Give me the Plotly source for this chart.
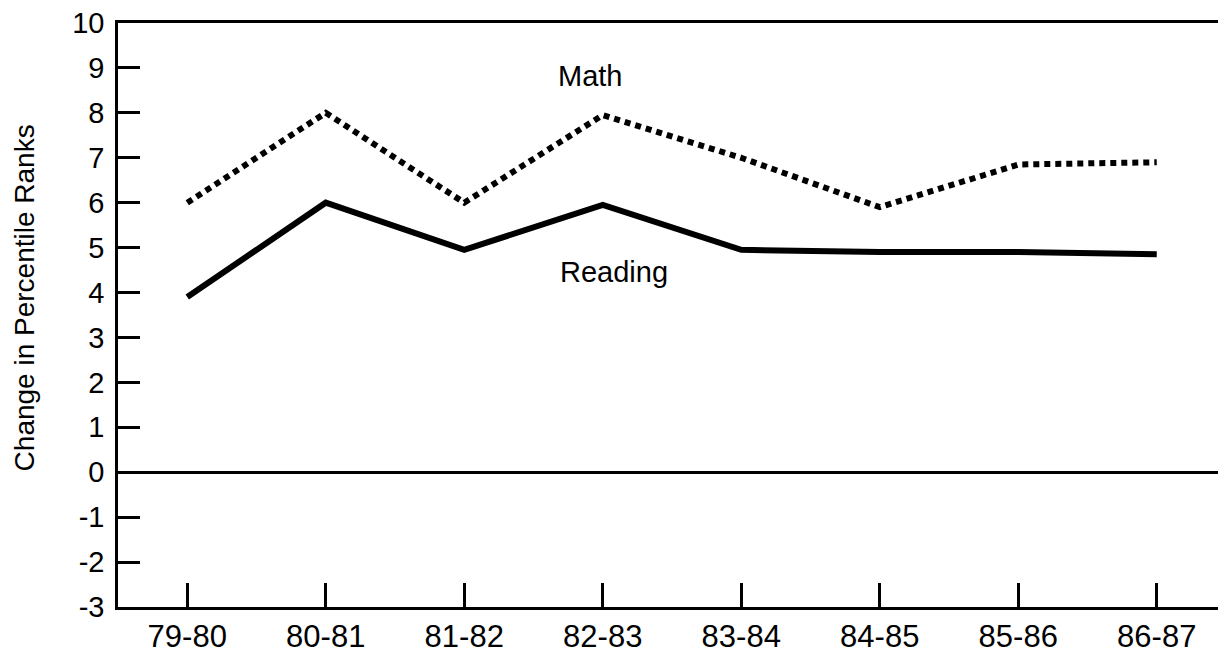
import plotly.graph_objects as go

categories = ["79-80", "80-81", "81-82", "82-83", "83-84", "84-85", "85-86", "86-87"]
math_values = [6.0, 8.0, 6.0, 7.95, 7.0, 5.9, 6.85, 6.9]
reading_values = [3.9, 6.0, 4.95, 5.95, 4.95, 4.9, 4.9, 4.85]
y_ticks = list(range(-3, 11))

FONT = "Liberation Sans, Arial, Helvetica, sans-serif"

fig = go.Figure()
fig.add_trace(go.Scatter(
    x=categories, y=math_values, mode="lines",
    line=dict(color="black", width=6, dash="6px,5px"),
    showlegend=False, hoverinfo="skip",
))
fig.add_trace(go.Scatter(
    x=categories, y=reading_values, mode="lines",
    line=dict(color="black", width=6),
    showlegend=False, hoverinfo="skip",
))

fig.add_annotation(x=2.91, y=8.83, xref="x", yref="y", text="Math",
                   showarrow=False, font=dict(family=FONT, size=29, color="black"))
fig.add_annotation(x=3.08, y=4.46, xref="x", yref="y", text="Reading",
                   showarrow=False, font=dict(family=FONT, size=29, color="black"))
fig.add_annotation(x=-0.084, y=0.53, xref="paper", yref="paper",
                   text="Change in Percentile Ranks", textangle=-90,
                   showarrow=False, xanchor="center", yanchor="middle",
                   font=dict(family=FONT, size=28, color="black"))

fig.update_layout(
    width=1218, height=655,
    margin=dict(l=110, r=0, t=15, b=56),
    plot_bgcolor="white", paper_bgcolor="white",
    font=dict(family=FONT, color="black"),
)
fig.update_xaxes(
    type="category", categoryorder="array", categoryarray=categories,
    range=[-0.5, 7.5],
    showline=True, linecolor="black", linewidth=2.5, mirror=True,
    ticks="inside", ticklen=24, tickwidth=2.5, tickcolor="black",
    showgrid=False, zeroline=False,
    tickfont=dict(family=FONT, size=31, color="black"),
    ticklabelstandoff=0,
    ticklabeloverflow="allow",
)
fig.update_yaxes(
    range=[-3, 10], tickmode="array", tickvals=y_ticks,
    ticktext=[str(v) for v in y_ticks],
    showline=True, linecolor="black", linewidth=2.5,
    ticks="inside", ticklen=22, tickwidth=2.5, tickcolor="black",
    showgrid=False,
    zeroline=True, zerolinecolor="black", zerolinewidth=2.5,
    tickfont=dict(family=FONT, size=29, color="black"),
    ticklabelstandoff=5,
    ticklabeloverflow="allow",
)

fig.write_html("out.html")
